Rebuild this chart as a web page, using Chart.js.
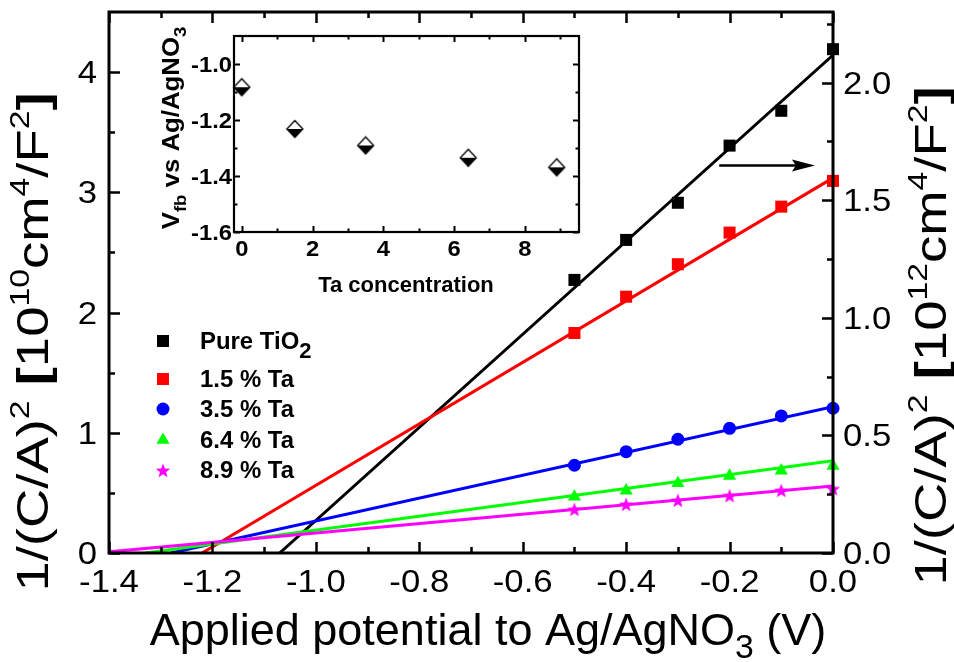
<!DOCTYPE html>
<html>
<head>
<meta charset="utf-8">
<title>Mott-Schottky plots of Ta-doped TiO2</title>
<script src="https://cdn.jsdelivr.net/npm/chart.js@4.4.0/dist/chart.umd.min.js"></script>
<style>
  body { margin: 0; background: #fff; }
  #wrap { position: relative; width: 954px; height: 662px; }
  #wrap canvas { position: absolute; }
</style>
</head>
<body>
<div id="wrap">
  <canvas id="main" width="954" height="662" style="left:0;top:0;width:954px;height:662px"></canvas>
  <canvas id="inset" width="460" height="290" style="left:140px;top:20px;width:460px;height:290px"></canvas>
</div>
<script>
const FONT = '"Liberation Sans", Arial, sans-serif';

// applied potential (V vs Ag/AgNO3) where C was measured
const potential = [-0.5, -0.4, -0.3, -0.2, -0.1, 0.0];
// 1/(C/A)^2 ; pure TiO2 is on the right axis (10^12), the doped films on the left (10^10)
const pureTiO2 = [1.161, 1.331, 1.489, 1.732, 1.880, 2.142];
const ta15 = [1.830, 2.132, 2.402, 2.665, 2.881, 3.095];
const ta35 = [0.730, 0.843, 0.946, 1.037, 1.140, 1.204];
const ta64 = [0.468, 0.518, 0.580, 0.641, 0.685, 0.724];
const ta89 = [0.366, 0.408, 0.441, 0.480, 0.524, 0.538];

// linear fits, from the x-intercept (flat band) up to 0 V
const fitPureX = [-1.07, 0.0], fitPureY = [0, 2.117];
const fit15X = [-1.22, 0.0], fit15Y = [0, 3.12];
const fit35X = [-1.28, 0.0], fit35Y = [0, 1.217];
const fit64X = [-1.33, 0.0], fit64Y = [0, 0.768];
const fit89X = [-1.40, 0.0], fit89Y = [0.01, 0.557];

const xTicks = [-1.4, -1.2, -1.0, -0.8, -0.6, -0.4, -0.2, 0.0];
const leftTicks = [0, 1, 2, 3, 4];
const rightTicks = [0, 0.5, 1.0, 1.5, 2.0];

// inset: flat band potential vs Ta content
const taConc = [0, 1.5, 3.5, 6.4, 8.9];
const vfb = [-1.083, -1.232, -1.291, -1.335, -1.369];
const insetXTicks = [0, 2, 4, 6, 8];
const insetYTicks = [-1.6, -1.4, -1.2, -1.0];

// ---------- marker images ----------
function makeStar(r, color) {
  const c = document.createElement('canvas');
  const s = Math.ceil(r * 2 + 2);
  c.width = c.height = s;
  const g = c.getContext('2d');
  g.fillStyle = color;
  g.beginPath();
  for (let i = 0; i < 10; i++) {
    const rr = i % 2 ? r * 0.42 : r;
    const a = -Math.PI / 2 + i * Math.PI / 5;
    g.lineTo(s / 2 + rr * Math.cos(a), s / 2 + 1 + rr * Math.sin(a));
  }
  g.closePath();
  g.fill();
  return c;
}

function makeHalfDiamond(w, h) {
  const c = document.createElement('canvas');
  c.width = w + 3; c.height = h + 3;
  const g = c.getContext('2d');
  const cx = c.width / 2, cy = c.height / 2;
  g.beginPath();
  g.moveTo(cx, cy - h / 2); g.lineTo(cx + w / 2, cy); g.lineTo(cx - w / 2, cy); g.closePath();
  g.fillStyle = '#fff'; g.fill();
  g.beginPath();
  g.moveTo(cx - w / 2, cy); g.lineTo(cx + w / 2, cy); g.lineTo(cx, cy + h / 2); g.closePath();
  g.fillStyle = '#000'; g.fill();
  g.beginPath();
  g.moveTo(cx, cy - h / 2); g.lineTo(cx + w / 2, cy); g.lineTo(cx, cy + h / 2); g.lineTo(cx - w / 2, cy); g.closePath();
  g.lineWidth = 1.3; g.strokeStyle = '#000'; g.stroke();
  return c;
}

// ---------- text with sub/superscripts ----------
// parts: [text, kind, bold] ; kind = 'n' | 'sup' | 'sub'
function drawRich(ctx, parts, x, y, o) {
  const sx = o.sx || 1;
  const segs = parts.map(p => {
    const kind = p[1] || 'n';
    const bold = p[2] !== undefined ? p[2] : o.bold;
    const sz = kind === 'n' ? o.size : o.size * (o.small || 0.62);
    const font = (bold ? 'bold ' : '') + sz.toFixed(1) + 'px ' + FONT;
    ctx.font = font;
    return { text: p[0], kind, font, w: ctx.measureText(p[0]).width };
  });
  const total = segs.reduce((a, s) => a + s.w, 0);
  ctx.save();
  ctx.translate(x, y);
  if (o.rot) ctx.rotate(o.rot);
  ctx.scale(sx, 1);
  ctx.fillStyle = '#000';
  ctx.textAlign = 'left';
  ctx.textBaseline = 'alphabetic';
  let cx = o.align === 'center' ? -total / 2 : o.align === 'right' ? -total : 0;
  segs.forEach(s => {
    ctx.font = s.font;
    const dy = s.kind === 'sup' ? -o.size * (o.supUp || 0.42) : s.kind === 'sub' ? o.size * (o.subDown || 0.22) : 0;
    ctx.fillText(s.text, cx, dy);
    cx += s.w;
  });
  ctx.restore();
}

function minorsOf(major, min, max) {
  const step = major[1] - major[0];
  const out = [];
  for (let i = -1; i < major.length; i++) {
    const m = major[Math.max(i, 0)] + (i < 0 ? -step / 2 : step / 2);
    if (m > min + 1e-9 && m < max - 1e-9) out.push(m);
  }
  return out;
}

function tickMarks(ctx, scale, values, len, side, a) {
  ctx.beginPath();
  values.forEach(v => {
    const p = Math.round(scale.getPixelForValue(v)) + 0.5;
    if (side === 'bottom') { ctx.moveTo(p, a.bottom); ctx.lineTo(p, a.bottom - len); }
    if (side === 'top') { ctx.moveTo(p, a.top); ctx.lineTo(p, a.top + len); }
    if (side === 'left') { ctx.moveTo(a.left, p); ctx.lineTo(a.left + len, p); }
    if (side === 'right') { ctx.moveTo(a.right, p); ctx.lineTo(a.right - len, p); }
  });
  ctx.stroke();
}

// ---------- main chart ----------
const pts = (xs, ys) => xs.map((x, i) => ({ x, y: ys[i] }));

const markerSets = [
  { label: 'Pure TiO', sub: '2', ys: pureTiO2, color: '#000000', style: 'rect', r: 8.5, axis: 'y2' },
  { label: '1.5 % Ta', ys: ta15, color: '#ff0000', style: 'rect', r: 8.5, axis: 'y' },
  { label: '3.5 % Ta', ys: ta35, color: '#0000ff', style: 'circle', r: 6.5, axis: 'y' },
  { label: '6.4 % Ta', ys: ta64, color: '#00ff00', style: 'triangle', r: 7.6, axis: 'y' },
  { label: '8.9 % Ta', ys: ta89, color: '#ff00ff', style: makeStar(7.6, '#ff00ff'), r: 7.6, axis: 'y' }
];

const fitSets = [
  { xs: fitPureX, ys: fitPureY, color: '#000000', axis: 'y2', order: 5 },
  { xs: fit15X, ys: fit15Y, color: '#ff0000', axis: 'y', order: 4 },
  { xs: fit35X, ys: fit35Y, color: '#0000ff', axis: 'y', order: 3 },
  { xs: fit64X, ys: fit64Y, color: '#00ff00', axis: 'y', order: 2 },
  { xs: fit89X, ys: fit89Y, color: '#ff00ff', axis: 'y', order: 1 }
];

const datasets = [];
fitSets.forEach(f => datasets.push({
  type: 'scatter', data: pts(f.xs, f.ys), yAxisID: f.axis, showLine: true,
  borderColor: f.color, borderWidth: 3, pointRadius: 0, order: f.order
}));
markerSets.forEach(m => datasets.push({
  type: 'scatter', label: m.label, data: pts(potential, m.ys), yAxisID: m.axis, showLine: false,
  pointStyle: m.style, pointRadius: m.r, pointBackgroundColor: m.color, pointBorderColor: m.color,
  pointBorderWidth: 0, clip: false, order: 0
}));

const mainDecor = {
  id: 'mainDecor',
  afterDraw(chart) {
    const ctx = chart.ctx, a = chart.chartArea;
    const sx = chart.scales.x, sy = chart.scales.y, sy2 = chart.scales.y2;
    ctx.save();
    ctx.strokeStyle = '#000';
    ctx.lineWidth = 3;
    ctx.strokeRect(a.left, a.top, a.right - a.left, a.bottom - a.top);

    ctx.lineWidth = 2.5;
    const xMin = minorsOf(xTicks, -1.4, 0);
    tickMarks(ctx, sx, xTicks, 11, 'bottom', a);
    tickMarks(ctx, sx, xMin, 6, 'bottom', a);
    tickMarks(ctx, sx, xTicks, 11, 'top', a);
    tickMarks(ctx, sx, xMin, 6, 'top', a);
    tickMarks(ctx, sy, leftTicks, 11, 'left', a);
    tickMarks(ctx, sy, minorsOf(leftTicks, 0, 4.5), 6, 'left', a);
    tickMarks(ctx, sy2, rightTicks, 11, 'right', a);
    tickMarks(ctx, sy2, minorsOf(rightTicks, 0, 2.3), 6, 'right', a);

    // tick labels
    xTicks.forEach(v => drawRich(ctx, [[v.toFixed(1)]], sx.getPixelForValue(v), 592,
      { size: 31, sx: 1.12, align: 'center' }));
    leftTicks.forEach(v => drawRich(ctx, [[String(v)]], 97, sy.getPixelForValue(v) + 11,
      { size: 31, sx: 1.12, align: 'right' }));
    rightTicks.forEach(v => drawRich(ctx, [[v.toFixed(1)]], 843, sy2.getPixelForValue(v) + 11,
      { size: 31, sx: 1.12, align: 'left' }));

    // axis titles
    drawRich(ctx, [['Applied potential to Ag/AgNO'], ['3', 'sub'], [' (V)']], 488, 645,
      { size: 45, align: 'center', small: 0.75, subDown: 0.28 });
    const yTitle = exp => [['1/(C/A)'], ['2', 'sup'], [' '], ['[', 'n', true], ['10'], [exp, 'sup'],
      ['cm'], ['4', 'sup'], ['/F'], ['2', 'sup'], [']', 'n', true]];
    drawRich(ctx, yTitle('10'), 48, 342, { size: 45, sx: 1.21, align: 'center', rot: -Math.PI / 2 });
    drawRich(ctx, yTitle('12'), 946, 336, { size: 45, sx: 1.21, align: 'center', rot: -Math.PI / 2 });

    // legend
    const rows = [341, 379, 409, 440, 470];
    markerSets.forEach((m, i) => {
      ctx.fillStyle = m.color;
      Chart.helpers.drawPoint(ctx, { pointStyle: m.style, radius: m.r, rotation: 0, borderWidth: 0 }, 163, rows[i]);
      const parts = [[m.label]];
      if (m.sub) parts.push([m.sub, 'sub']);
      drawRich(ctx, parts, 200, rows[i] + 8, { size: 23, bold: true, sx: 1.04, small: 0.92, subDown: 0.4 });
    });

    // arrow pointing to the right axis for the pure TiO2 curve
    const ay = sy2.getPixelForValue(1.647);
    const ax0 = sx.getPixelForValue(-0.220), ax1 = sx.getPixelForValue(-0.035);
    ctx.fillStyle = '#000';
    ctx.lineWidth = 2.5;
    ctx.beginPath(); ctx.moveTo(ax0, ay); ctx.lineTo(ax1 - 12, ay); ctx.stroke();
    ctx.beginPath();
    ctx.moveTo(ax1, ay); ctx.lineTo(ax1 - 23, ay - 6); ctx.lineTo(ax1 - 19, ay); ctx.lineTo(ax1 - 23, ay + 6);
    ctx.closePath(); ctx.fill();
    ctx.restore();
  }
};

new Chart(document.getElementById('main'), {
  type: 'scatter',
  data: { datasets },
  options: {
    responsive: false,
    animation: false,
    devicePixelRatio: 1,
    events: [],
    layout: { padding: { top: 12, left: 0, right: 0, bottom: 0 } },
    plugins: { legend: { display: false }, tooltip: { enabled: false } },
    scales: {
      x: {
        type: 'linear', position: 'bottom', min: -1.4, max: 0,
        grid: { display: false }, border: { display: false }, ticks: { display: false },
        afterFit: s => { s.height = 109; }
      },
      y: {
        type: 'linear', position: 'left', min: 0, max: 4.5,
        grid: { display: false }, border: { display: false }, ticks: { display: false },
        afterFit: s => { s.width = 109; }
      },
      y2: {
        type: 'linear', position: 'right', min: 0, max: 2.3,
        grid: { display: false }, border: { display: false }, ticks: { display: false },
        afterFit: s => { s.width = 121; }
      }
    }
  },
  plugins: [mainDecor]
});

// ---------- inset ----------
const insetDecor = {
  id: 'insetDecor',
  afterDraw(chart) {
    const ctx = chart.ctx, a = chart.chartArea;
    const sx = chart.scales.x, sy = chart.scales.y;
    ctx.save();
    ctx.strokeStyle = '#000';
    ctx.lineWidth = 2.2;
    ctx.strokeRect(a.left, a.top, a.right - a.left, a.bottom - a.top);
    ctx.lineWidth = 2;
    const xMin = [1, 3, 5, 7, 9];
    const yMin = minorsOf(insetYTicks, -1.6, -0.9);
    tickMarks(ctx, sx, insetXTicks, 6, 'bottom', a);
    tickMarks(ctx, sx, xMin, 3.5, 'bottom', a);
    tickMarks(ctx, sx, insetXTicks, 6, 'top', a);
    tickMarks(ctx, sx, xMin, 3.5, 'top', a);
    tickMarks(ctx, sy, insetYTicks, 6, 'left', a);
    tickMarks(ctx, sy, yMin, 3.5, 'left', a);
    tickMarks(ctx, sy, insetYTicks, 6, 'right', a);
    tickMarks(ctx, sy, yMin, 3.5, 'right', a);

    insetXTicks.forEach(v => drawRich(ctx, [[String(v)]], sx.getPixelForValue(v), 236,
      { size: 22, bold: true, sx: 1.08, align: 'center' }));
    insetYTicks.forEach(v => drawRich(ctx, [[v.toFixed(1)]], 92, sy.getPixelForValue(v) + 8,
      { size: 22, bold: true, sx: 1.08, align: 'right' }));

    drawRich(ctx, [['Ta concentration']], 266, 272, { size: 22, bold: true, align: 'center' });
    drawRich(ctx, [['V'], ['fb', 'sub'], [' vs Ag/AgNO'], ['3', 'sub']], 39, 108,
      { size: 23, bold: true, sx: 1.12, align: 'center', rot: -Math.PI / 2, small: 0.72, subDown: 0.32 });
    ctx.restore();
  }
};

new Chart(document.getElementById('inset'), {
  type: 'scatter',
  data: {
    datasets: [{
      data: pts(taConc, vfb), showLine: false,
      pointStyle: makeHalfDiamond(16, 17), pointRadius: 8, clip: false
    }]
  },
  options: {
    responsive: false,
    animation: false,
    devicePixelRatio: 1,
    events: [],
    layout: { padding: { top: 16, left: 0, right: 21, bottom: 0 } },
    plugins: { legend: { display: false }, tooltip: { enabled: false } },
    scales: {
      x: {
        type: 'linear', min: -0.22, max: 9.53,
        grid: { display: false }, border: { display: false }, ticks: { display: false },
        afterFit: s => { s.height = 78; }
      },
      y: {
        type: 'linear', min: -1.6, max: -0.9,
        grid: { display: false }, border: { display: false }, ticks: { display: false },
        afterFit: s => { s.width = 94; }
      }
    }
  },
  plugins: [insetDecor]
});
</script>
</body>
</html>
